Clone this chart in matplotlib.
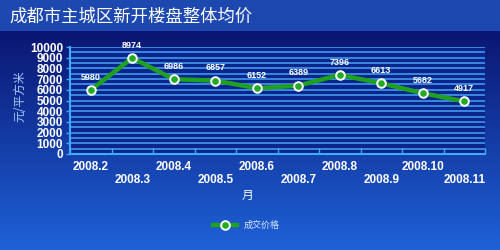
import numpy as np
import matplotlib
matplotlib.use("Agg")
import matplotlib.pyplot as plt

plt.rcParams['font.family'] = ['Liberation Sans', 'Noto Sans CJK SC', 'DejaVu Sans']

months = ["2008.2", "2008.3", "2008.4", "2008.5", "2008.6",
          "2008.7", "2008.8", "2008.9", "2008.10", "2008.11"]
prices = [5980, 8974, 6986, 6857, 6152, 6389, 7396, 6613, 5682, 4917]
yticks = [0, 1000, 2000, 3000, 4000, 5000, 6000, 7000, 8000, 9000, 10000]

W, H = 500, 250
fig = plt.figure(figsize=(5, 2.5), dpi=100)

# background gradient
bg = fig.add_axes([0, 0, 1, 1])
bg.set_axis_off()
grad = np.zeros((H, 1, 3))
c_top = np.array([0x1c, 0x48, 0xb0]) / 255
c_navy = np.array([0x0a, 0x16, 0x72]) / 255
c_bot = np.array([0x1e, 0x62, 0xd8]) / 255
for i in range(H):
    if i < 31:
        grad[i, 0] = c_top
    else:
        t = (i - 31) / (H - 31)
        grad[i, 0] = c_navy * (1 - t) + c_bot * t
bg.imshow(grad, aspect='auto', extent=[0, 1, 0, 1], origin='upper')
bg.set_xlim(0, 1); bg.set_ylim(0, 1)

fig.text(9 / W, 1 - 17 / H, "成都市主城区新开楼盘整体均价", color='white',
         fontsize=12.5, va='center', ha='left', family=['Noto Sans CJK SC'])

x0, x1 = 70 / W, 485 / W
yb, yt = 1 - 154 / H, 1 - 47 / H
ax = fig.add_axes([x0, yb, x1 - x0, yt - yb])
ax.set_facecolor('#0a268a')

x = np.arange(len(months))
for v in np.arange(500, 10001, 500):
    ax.axhline(v, color='#3a88e2', lw=1.4, zorder=1)

ax.plot(x, prices, color='#1fa01f', lw=3.2, zorder=3)
ax.plot(x, prices, ls='none', marker='o', ms=6.2, mfc='#22aa22', mec='white', mew=1.4, zorder=4)

for xi, p in zip(x, prices):
    ax.annotate(str(p), (xi, p), xytext=(0, 6), textcoords='offset points',
                ha='center', va='bottom', color='white', fontsize=6.5, fontweight='bold', zorder=5)

ax.set_xlim(-0.5, len(months) - 0.5)
ax.set_ylim(0, 10000)
ax.set_yticks(yticks)
ax.set_yticklabels([str(v) for v in yticks], color='white', fontsize=8.5, fontweight='bold')
ax.set_xticks(x)
ax.set_xticklabels([])
ax.set_xticks(np.arange(-0.5, len(months), 1.0), minor=True)
ax.tick_params(axis='x', which='major', length=0)
ax.tick_params(axis='x', which='minor', length=4, direction='in', color='#40aaff', width=1)
ax.tick_params(axis='y', which='major', length=3, color='#40aaff', width=1, pad=2)
for s in ['top', 'right']:
    ax.spines[s].set_visible(False)
for s in ['left', 'bottom']:
    ax.spines[s].set_color('#40aaff')
    ax.spines[s].set_linewidth(1.5)

for i, m in enumerate(months):
    off = -13 if i % 2 == 0 else -26
    ax.annotate(m, (i, 0), xytext=(0, off * 0.72), textcoords='offset points',
                ha='center', va='center', color='white', fontsize=8.5, fontweight='bold',
                annotation_clip=False)

fig.text(248 / W, 1 - 195 / H, "月", color='white', fontsize=8.5, ha='center', va='center',
         family=['Noto Sans CJK SC'])
fig.text(20 / W, 1 - 96 / H, "元/平方米", color='#a8c8ff', fontsize=8.5, ha='center', va='center',
         rotation=90, family=['Noto Sans CJK SC'])

# legend
lax = fig.add_axes([0, 0, 1, 1])
lax.set_axis_off()
lax.set_xlim(0, W); lax.set_ylim(H, 0)
lax.plot([213, 237], [225, 225], color='#1fa01f', lw=3.2)
lax.plot([225], [225], marker='o', ms=6.2, mfc='#22aa22', mec='white', mew=1.4)
lax.text(244, 225, "成交价格", color='#d8e8ff', fontsize=6.5, va='center', ha='left',
         family=['Noto Sans CJK SC'])

fig.savefig("out.png", dpi=100)
